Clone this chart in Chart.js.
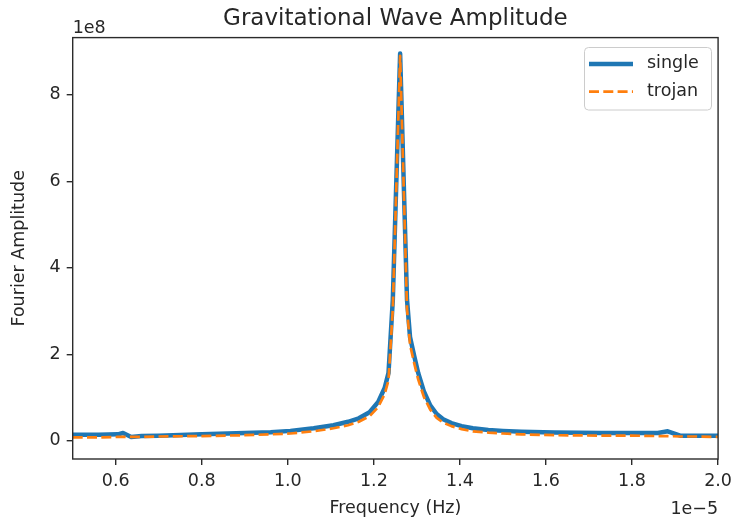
<!DOCTYPE html>
<html>
<head>
<meta charset="utf-8">
<title>Gravitational Wave Amplitude</title>
<script src="https://cdn.jsdelivr.net/npm/chart.js@4/dist/chart.umd.min.js"></script>
<style>
  html, body { margin: 0; padding: 0; background: #fff; }
  #chart { display: block; }
</style>
</head>
<body>
<canvas id="chart" width="738" height="521"></canvas>
<script>
// frequency in units of 1e-5 Hz, amplitude in units of 1e8
const freqs = [0.50, 0.56, 0.605, 0.617, 0.636, 0.66, 0.70, 0.80, 0.90, 0.96, 1.006, 1.06, 1.106, 1.14, 1.165, 1.19, 1.21, 1.225, 1.234, 1.244, 1.261, 1.277, 1.284, 1.294, 1.303, 1.316, 1.331, 1.346, 1.361, 1.38, 1.404, 1.43, 1.466, 1.50, 1.543, 1.62, 1.729, 1.80, 1.86, 1.883, 1.912, 1.95, 2.0];
const singleAmp = [0.14, 0.14, 0.15, 0.18, 0.09, 0.11, 0.12, 0.15, 0.18, 0.20, 0.23, 0.29, 0.36, 0.44, 0.52, 0.66, 0.90, 1.22, 1.57, 3.26, 8.95, 3.26, 2.40, 1.95, 1.57, 1.15, 0.82, 0.62, 0.50, 0.41, 0.34, 0.29, 0.25, 0.23, 0.21, 0.19, 0.18, 0.18, 0.18, 0.22, 0.12, 0.12, 0.12];
const trojanAmp = [0.08, 0.08, 0.09, 0.09, 0.09, 0.09, 0.10, 0.11, 0.13, 0.15, 0.17, 0.22, 0.29, 0.36, 0.44, 0.57, 0.78, 1.08, 1.40, 3.05, 8.90, 3.05, 2.22, 1.78, 1.42, 1.02, 0.72, 0.53, 0.42, 0.34, 0.27, 0.22, 0.19, 0.17, 0.15, 0.13, 0.12, 0.12, 0.11, 0.11, 0.10, 0.10, 0.09];
const xTicks = [0.6, 0.8, 1.0, 1.2, 1.4, 1.6, 1.8, 2.0];
const yTicks = [0, 2, 4, 6, 8];

const FONT = "'DejaVu Sans', sans-serif";
const TEXT = "#262626";
const SPINE = "#2b2b2b";

const toPoints = (ys) => freqs.map((x, i) => ({ x, y: ys[i] }));

// spines, offset labels and the framed legend, matplotlib style
const mplDecor = {
  id: "mplDecor",
  afterDatasetsDraw(chart) {
    const { ctx, chartArea: a } = chart;
    ctx.save();
    ctx.strokeStyle = SPINE;
    ctx.lineWidth = 1.4;
    ctx.strokeRect(a.left, a.top, a.right - a.left, a.bottom - a.top);
    ctx.restore();
  },
  afterDraw(chart) {
    const { ctx, chartArea: a } = chart;
    ctx.save();
    ctx.fillStyle = TEXT;
    ctx.font = `17.5px ${FONT}`;
    ctx.textBaseline = "alphabetic";
    ctx.textAlign = "left";
    ctx.fillText("1e8", a.left, 33);
    ctx.textAlign = "right";
    ctx.fillText("1e\u22125", a.right, 514);

    ctx.beginPath();
    ctx.roundRect(584.5, 47.5, 127, 62.5, 4);
    ctx.fillStyle = "rgba(255, 255, 255, 0.8)";
    ctx.fill();
    ctx.strokeStyle = "#cccccc";
    ctx.lineWidth = 1;
    ctx.stroke();

    chart.data.datasets.forEach((ds, i) => {
      const ly = 64 + i * 27.7;
      ctx.beginPath();
      ctx.setLineDash(ds.borderDash || []);
      ctx.strokeStyle = ds.borderColor;
      ctx.lineWidth = ds.borderWidth;
      ctx.moveTo(589, ly);
      ctx.lineTo(633, ly);
      ctx.stroke();
      ctx.setLineDash([]);
      ctx.fillStyle = TEXT;
      ctx.textAlign = "left";
      ctx.fillText(ds.label, 647, 68 + i * 28);
    });
    ctx.restore();
  },
};

new Chart(document.getElementById("chart"), {
  type: "line",
  data: {
    datasets: [
      {
        label: "single",
        data: toPoints(singleAmp),
        borderColor: "#1f77b4",
        borderWidth: 4.5,
        borderJoinStyle: "round",
        pointRadius: 0,
        tension: 0,
        order: 2,
      },
      {
        label: "trojan",
        data: toPoints(trojanAmp),
        borderColor: "#ff7f0e",
        borderWidth: 2.7,
        borderDash: [10, 4.3],
        borderJoinStyle: "round",
        pointRadius: 0,
        tension: 0,
        order: 1,
      },
    ],
  },
  options: {
    responsive: false,
    animation: false,
    devicePixelRatio: 1,
    layout: { padding: { right: 18 } },
    scales: {
      x: {
        type: "linear",
        min: 0.5,
        max: 2.0,
        afterBuildTicks: (scale) => {
          scale.ticks = xTicks.map((v) => ({ value: v }));
        },
        afterFit: (scale) => {
          scale.height = 62;
        },
        grid: { drawOnChartArea: false, drawTicks: true, tickLength: 6, color: SPINE, lineWidth: 1.4 },
        border: { display: false },
        ticks: {
          padding: 6,
          color: TEXT,
          maxRotation: 0,
          autoSkip: false,
          font: { size: 17.5, family: FONT },
          callback: (value) => value.toFixed(1),
        },
        title: {
          display: true,
          text: "Frequency (Hz)",
          color: TEXT,
          font: { size: 17.5, family: FONT },
          padding: { top: 0, bottom: 2 },
        },
      },
      y: {
        type: "linear",
        min: -0.42,
        max: 9.32,
        afterBuildTicks: (scale) => {
          scale.ticks = yTicks.map((v) => ({ value: v }));
        },
        afterFit: (scale) => {
          scale.width = 72.7;
        },
        grid: { drawOnChartArea: false, drawTicks: true, tickLength: 6, color: SPINE, lineWidth: 1.4 },
        border: { display: false },
        ticks: {
          padding: 6,
          color: TEXT,
          font: { size: 17.5, family: FONT },
          callback: (value) => String(value),
        },
        title: {
          display: true,
          text: "Fourier Amplitude",
          color: TEXT,
          font: { size: 17.5, family: FONT },
          padding: { top: 9, bottom: 0 },
        },
      },
    },
    plugins: {
      legend: { display: false },
      tooltip: { enabled: false },
      title: {
        display: true,
        fullSize: false,
        text: "Gravitational Wave Amplitude",
        color: TEXT,
        font: { size: 23, weight: "normal", family: FONT },
        padding: { top: 5, bottom: 5 },
      },
    },
  },
  plugins: [mplDecor],
});
</script>
</body>
</html>
